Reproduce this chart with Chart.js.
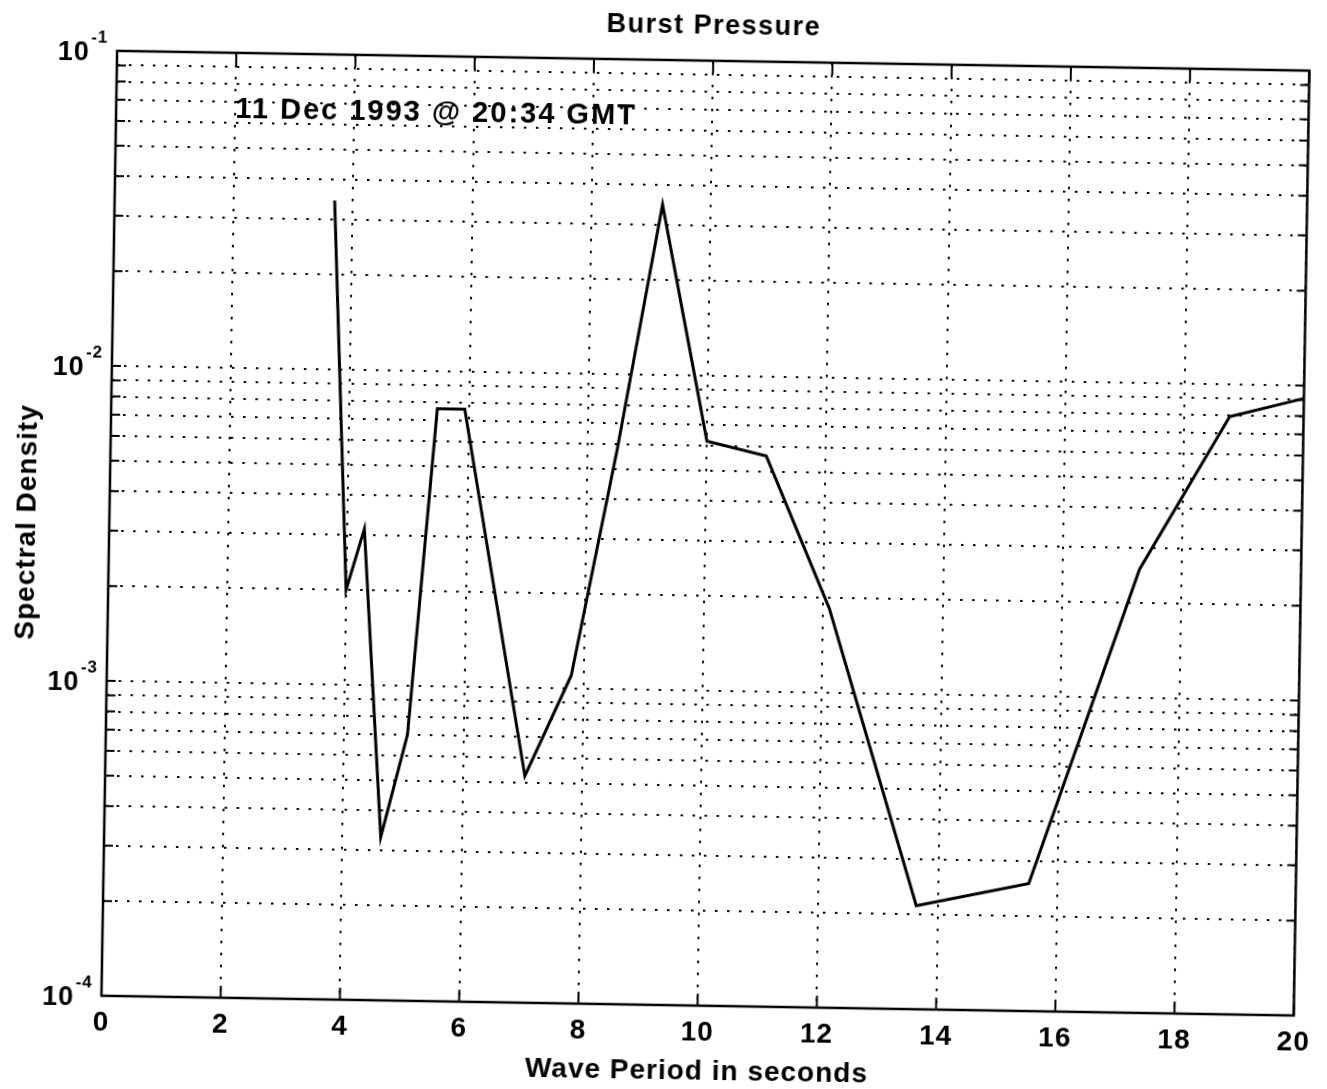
<!DOCTYPE html>
<html>
<head>
<meta charset="utf-8">
<title>Burst Pressure</title>
<script src="https://cdn.jsdelivr.net/npm/chart.js@4.4.1/dist/chart.umd.min.js"></script>
<style>
  html, body { margin: 0; padding: 0; background: #fff; overflow: hidden; }
  /* the printed page sits a little askew */
  #spectrum { display: block; transform: rotate(0.95deg); transform-origin: 663.5px 544.5px; }
</style>
</head>
<body>
<canvas id="spectrum" width="1327" height="1089"></canvas>
<script>
// wave period (s) and spectral density along the trace
const periods = [3.69, 3.99, 4.28, 4.64, 5.06, 5.47, 5.93, 7.04, 7.79, 8.5, 9.19, 10.0, 11.0, 12.1, 13.64, 15.52, 17.29, 18.76, 20.0];
const density = [0.0344, 0.0020, 0.00313, 0.00033, 0.0007, 0.0076, 0.0076, 0.000525, 0.0011, 0.0058, 0.0347, 0.0062, 0.0056, 0.00185, 0.000213, 0.000254, 0.00256, 0.0079, 0.0091];

const xTicks = [0, 2, 4, 6, 8, 10, 12, 14, 16, 18, 20];
const decades = [1e-4, 1e-3, 1e-2, 1e-1];
const decadeExponents = ['-4', '-3', '-2', '-1'];
const mantissas = [1, 2, 3, 4, 5, 6, 7, 8, 9];

const stampText = '11 Dec 1993 @ 20:34 GMT';
const stampAt = [2, 0.066];

const FONT = "'Liberation Sans', Arial, Helvetica, sans-serif";

// log grid: every 1..9 step inside each decade
const yGrid = [];
decades.slice(0, -1).forEach(d => mantissas.forEach(m => yGrid.push(m * d)));
yGrid.push(decades[decades.length - 1]);

// box, inward ticks, power-of-ten labels and text
const frame = {
    id: 'frame',
    beforeDraw(chart) {
        // wide old plotter lettering
        chart.ctx.letterSpacing = '1px';
    },
    afterDraw(chart) {
        const { ctx, chartArea: a, scales: { x, y } } = chart;
        ctx.save();
        ctx.strokeStyle = '#000';
        ctx.lineWidth = 2.5;
        ctx.strokeRect(a.left, a.top, a.width, a.height);

        ctx.lineWidth = 2;
        ctx.beginPath();
        xTicks.forEach(v => {
            const px = x.getPixelForValue(v);
            ctx.moveTo(px, a.bottom); ctx.lineTo(px, a.bottom - 12);
            ctx.moveTo(px, a.top); ctx.lineTo(px, a.top + 12);
        });
        yGrid.forEach(v => {
            const py = y.getPixelForValue(v);
            ctx.moveTo(a.left, py); ctx.lineTo(a.left + 9, py);
            ctx.moveTo(a.right, py); ctx.lineTo(a.right - 9, py);
        });
        ctx.stroke();

        ctx.fillStyle = '#000';
        ctx.textBaseline = 'middle';
        ctx.textAlign = 'right';
        ctx.letterSpacing = '1px';
        decades.forEach((d, i) => {
            const py = y.getPixelForValue(d);
            ctx.font = `bold 17px ${FONT}`;
            const expW = ctx.measureText(decadeExponents[i]).width;
            ctx.fillText(decadeExponents[i], a.left - 9, py - 13);
            ctx.font = `bold 27px ${FONT}`;
            ctx.fillText('10', a.left - 10 - expW, py + 3);
        });

        ctx.textAlign = 'center';
        ctx.font = `bold 27px ${FONT}`;
        ctx.letterSpacing = '1.5px';
        ctx.fillText('Burst Pressure', (a.left + a.right) / 2, 26);

        ctx.textAlign = 'left';
        ctx.font = `bold 29px ${FONT}`;
        ctx.letterSpacing = '2px';
        ctx.fillText(stampText, x.getPixelForValue(stampAt[0]), y.getPixelForValue(stampAt[1]));
        ctx.restore();
    }
};

const gridStyle = { color: '#000', lineWidth: 2, drawTicks: false };
const dots = { display: false, dash: [2.5, 9.5] };

new Chart(document.getElementById('spectrum'), {
    type: 'line',
    data: {
        datasets: [{
            data: periods.map((p, i) => ({ x: p, y: density[i] })),
            borderColor: '#000',
            borderWidth: 3,
            pointRadius: 0,
            tension: 0,
            fill: false
        }]
    },
    options: {
        responsive: false,
        animation: false,
        layout: { padding: { top: 60, right: 12, left: 0, bottom: 0 } },
        plugins: { legend: { display: false }, tooltip: { enabled: false }, title: { display: false } },
        scales: {
            x: {
                type: 'linear',
                min: 0,
                max: 20,
                afterBuildTicks: s => { s.ticks = xTicks.map(v => ({ value: v })); },
                afterFit: s => { s.height = 84; },
                grid: gridStyle,
                border: dots,
                ticks: { color: '#000', font: { family: FONT, size: 28, weight: 'bold' }, padding: 10, maxRotation: 0, autoSkip: false },
                title: { display: true, text: 'Wave Period in seconds', color: '#000', font: { family: FONT, size: 28, weight: 'bold' }, padding: { top: 0, bottom: 1 } }
            },
            y: {
                type: 'logarithmic',
                min: 1e-4,
                max: 1e-1,
                afterBuildTicks: s => { s.ticks = yGrid.map(v => ({ value: v })); },
                afterFit: s => { s.width = 109; },
                grid: gridStyle,
                border: dots,
                ticks: { display: false },
                title: { display: true, text: 'Spectral Density', color: '#000', font: { family: FONT, size: 28, weight: 'bold' }, padding: { top: 10, bottom: 0 } }
            }
        }
    },
    plugins: [frame]
});
</script>
</body>
</html>
